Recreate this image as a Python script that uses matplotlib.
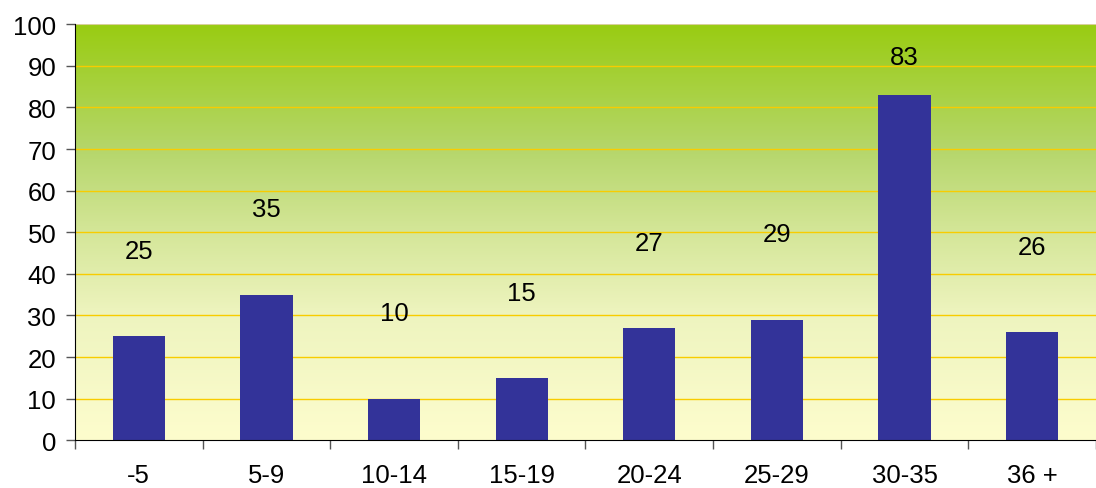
import numpy as np
import matplotlib
matplotlib.use('Agg')
import matplotlib.pyplot as plt
from matplotlib.colors import LinearSegmentedColormap

# Age groups and counts
age_groups = ['-5', '5-9', '10-14', '15-19', '20-24', '25-29', '30-35', '36 +']
counts = [25, 35, 10, 15, 27, 29, 83, 26]

plt.rcParams['font.family'] = ['Liberation Sans', 'DejaVu Sans']
fs = 18.5

fig = plt.figure(figsize=(10.96, 4.89), dpi=100)
ax = fig.add_axes([0.0684, 0.0975, 0.9316, 0.851])

# Green-to-pale-yellow background gradient
grad = LinearSegmentedColormap.from_list(
    'bg', [(0.0, '#fdfdcd'), (0.3, '#eef4bf'), (0.5, '#d4e698'),
           (0.7, '#b5d66a'), (1.0, '#99cc11')])
ax.imshow(np.linspace(0, 1, 256).reshape(-1, 1), cmap=grad, aspect='auto',
          extent=[-0.5, len(age_groups) - 0.5, 0, 100], origin='lower', zorder=0)

for yv in range(10, 100, 10):
    ax.axhline(yv, color='#f8cc00', lw=1.0, zorder=1)
ax.axhline(100, color='#d8d09a', lw=1.5, zorder=1)

x = np.arange(len(age_groups))
ax.bar(x, counts, width=0.41, color='#333399', zorder=2)

# Value labels float above the bars
for xi, v in zip(x, counts):
    ax.text(xi, min(v + 20.5, 92.2), str(v), ha='center', va='center',
            fontsize=fs, zorder=3)

ax.set_xlim(-0.5, len(age_groups) - 0.5)
ax.set_ylim(0, 100)
ax.set_yticks(range(0, 101, 10))
ax.set_xticks(np.arange(len(age_groups) + 1) - 0.5)
ax.set_xticklabels([])
ax.set_xticks(x, minor=True)
ax.set_xticklabels(age_groups, minor=True)
ax.tick_params(axis='x', which='minor', length=0, pad=16, labelsize=fs)
ax.tick_params(axis='x', which='major', length=6.5, width=1, color='#555555')
ax.tick_params(axis='y', length=6.5, width=1, color='#555555', labelsize=fs, pad=7)

for s in ['top', 'right']:
    ax.spines[s].set_visible(False)
ax.spines['left'].set_color('black')
ax.spines['bottom'].set_color('black')

fig.savefig('out.png', dpi=100)
